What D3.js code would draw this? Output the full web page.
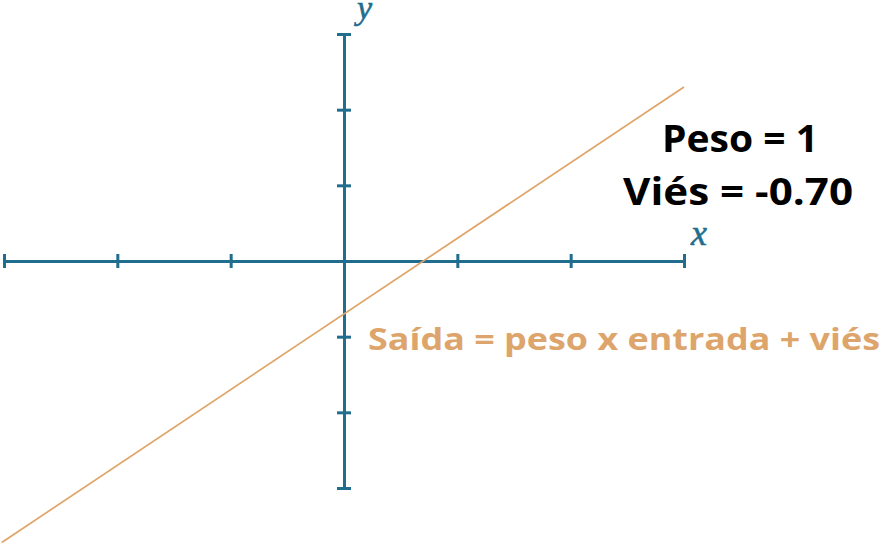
<!DOCTYPE html>
<html>
<head>
<meta charset="utf-8">
<script src="https://cdn.jsdelivr.net/npm/d3@7"></script>
<style>
  html, body { margin: 0; padding: 0; background: #fff; }
  svg { display: block; }
</style>
</head>
<body>
<svg id="chart" width="883" height="546"></svg>
<script>
// ---- data ----
const xTicks = [-3, -2, -1, 0, 1, 2, 3];
const yTicks = [-3, -2, -1, 0, 1, 2, 3];
const weight = 1;
const bias = -0.70;
const lineX = [-3.02, 3];
const lineY = [-3.72, 2.30];
const infoLines = ["Peso = 1", "Viés = -0.70"];
const formulaText = "Saída = peso x entrada + viés";
const axisLabels = ["x", "y"];

// ---- drawing ----
const svg = d3.select("#chart");
const axisColor = "#216d8e";
const lineColor = "#e0a467";

const x = d3.scaleLinear().domain([-3, 3]).range([4, 684]);
const y = d3.scaleLinear().domain([-3, 3]).range([488, 34]);

// x axis
const gx = svg.append("g").attr("transform", `translate(0,${y(0)})`)
  .call(d3.axisBottom(x).tickValues(xTicks).tickSizeOuter(0).tickFormat(""));
gx.select(".domain").attr("stroke", axisColor).attr("stroke-width", 3);
gx.selectAll(".tick line").attr("y1", -7).attr("y2", 7)
  .attr("stroke", axisColor).attr("stroke-width", 3);

// y axis
const gy = svg.append("g").attr("transform", `translate(${x(0)},0)`)
  .call(d3.axisLeft(y).tickValues(yTicks).tickSizeOuter(0).tickFormat(""));
gy.select(".domain").attr("stroke", axisColor).attr("stroke-width", 3);
gy.selectAll(".tick line").attr("x1", -7).attr("x2", 7)
  .attr("stroke", axisColor).attr("stroke-width", 3);
// hide center tick at origin
gx.selectAll(".tick").filter(d => d === 0).select("line").remove();
gy.selectAll(".tick").filter(d => d === 0).select("line").remove();

// axis labels
svg.append("text").text(axisLabels[0])
  .attr("x", x(3) + 7).attr("y", 245)
  .attr("font-family", "'Liberation Serif', 'DejaVu Serif', serif")
  .attr("font-style", "italic").attr("font-size", 36)
  .attr("stroke", axisColor).attr("stroke-width", 0.6)
  .attr("fill", axisColor);
svg.append("text").text(axisLabels[1])
  .attr("x", x(0) + 13).attr("y", 19)
  .attr("font-family", "'Liberation Serif', 'DejaVu Serif', serif")
  .attr("font-style", "italic").attr("font-size", 34)
  .attr("stroke", axisColor).attr("stroke-width", 0.6)
  .attr("fill", axisColor);

// line
const pts = lineX.map((d, i) => [d, lineY[i]]);
svg.append("path").datum(pts)
  .attr("d", d3.line().x(d => x(d[0])).y(d => y(d[1])))
  .attr("fill", "none").attr("stroke", lineColor).attr("stroke-width", 1.7);

// info text
const infoPos = [{cx: 740, by: 152, w: 156}, {cx: 738, by: 205, w: 230}];
infoLines.forEach((t, i) => {
  svg.append("text").text(t)
    .attr("x", infoPos[i].cx).attr("y", infoPos[i].by)
    .attr("text-anchor", "middle")
    .attr("font-family", "'Open Sans', 'DejaVu Sans', sans-serif")
    .attr("font-weight", 700).attr("font-size", 38)
    .attr("textLength", infoPos[i].w).attr("lengthAdjust", "spacingAndGlyphs")
    .attr("fill", "#000");
});

// formula
svg.append("text").text(formulaText)
  .attr("x", 368).attr("y", 350)
  .attr("font-family", "'Open Sans', 'DejaVu Sans', sans-serif")
  .attr("font-weight", 700).attr("font-size", 30)
  .attr("textLength", 512).attr("lengthAdjust", "spacingAndGlyphs")
  .attr("fill", "#dda56c");
</script>
</body>
</html>
